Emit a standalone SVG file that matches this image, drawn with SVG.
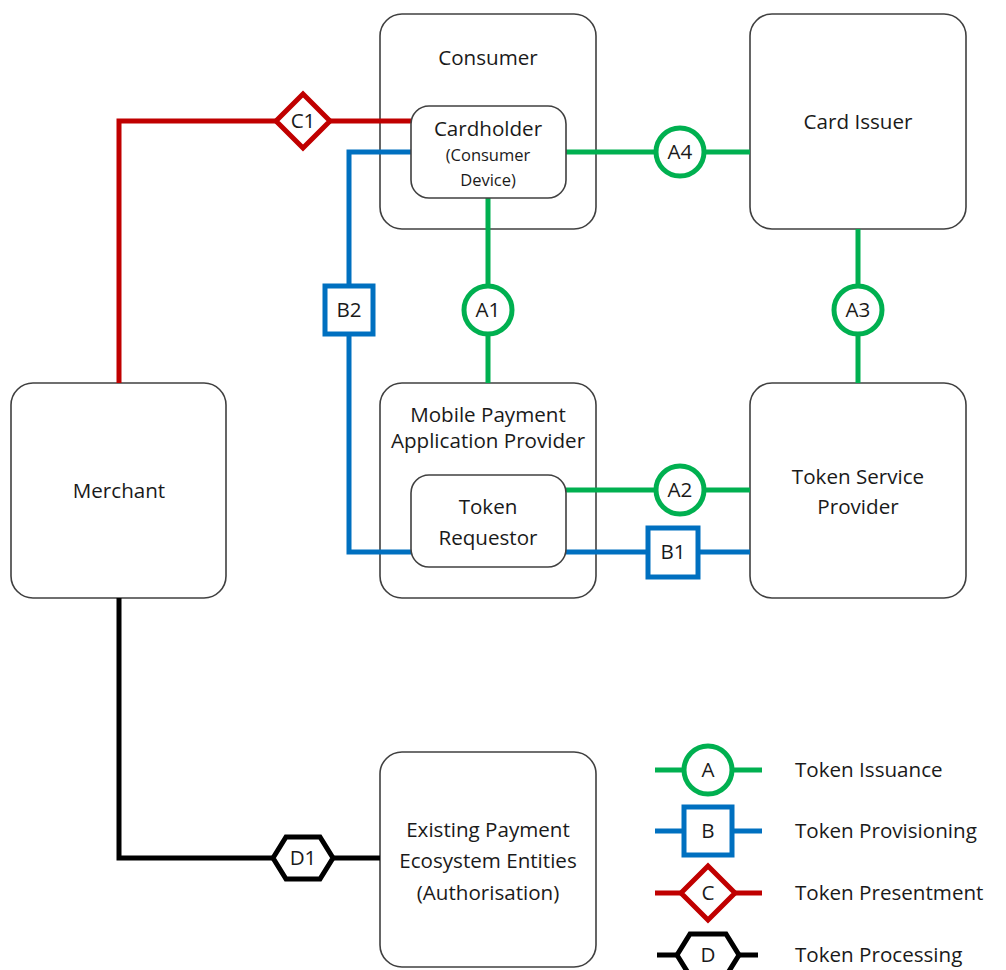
<svg xmlns="http://www.w3.org/2000/svg" width="1006" height="970" viewBox="0 0 1006 970">
<style>
.box{fill:#fff;stroke:#404040;stroke-width:1.6}
.t{font-family:"Open Sans","Noto Sans",sans-serif;font-size:20.6px;fill:#1a1a1a;text-anchor:middle}
.s{font-size:16.5px}
.lt{text-anchor:start}
.g{stroke:#00B050}
.b{stroke:#0070C0}
.r{stroke:#C00000}
.k{stroke:#000}
.ln{fill:none;stroke-width:5;stroke-linecap:butt;stroke-linejoin:miter}
.sym{fill:#fff;stroke-width:5}
</style>
<rect width="1006" height="970" fill="#fff"/>
<g id="merchant"><rect class="box" x="11" y="383" width="215" height="215" rx="22"/><text class="t" x="119" y="498">Merchant</text></g>
<g id="consumer"><rect class="box" x="380" y="14" width="216" height="215" rx="22"/><text class="t" x="488" y="65">Consumer</text></g>
<g id="card-issuer"><rect class="box" x="750" y="14" width="216" height="215" rx="22"/><text class="t" x="858" y="129">Card Issuer</text></g>
<g id="mpap"><rect class="box" x="380" y="383" width="216" height="215" rx="22"/><text class="t" x="488" y="422">Mobile Payment</text><text class="t" x="488" y="448">Application Provider</text></g>
<g id="tsp"><rect class="box" x="750" y="383" width="216" height="215" rx="22"/><text class="t" x="858" y="484">Token Service</text><text class="t" x="858" y="514">Provider</text></g>
<g id="existing"><rect class="box" x="380" y="752" width="216" height="215" rx="22"/><text class="t" x="488" y="837">Existing Payment</text><text class="t" x="488" y="868">Ecosystem Entities</text><text class="t" x="488" y="900">(Authorisation)</text></g>
<g id="connectors">
<path class="ln r" d="M119 383 V121 H411"/>
<path class="ln b" d="M411 152 H349 V552 H411"/>
<path class="ln g" d="M488 198 V383"/>
<path class="ln g" d="M566 152 H750"/>
<path class="ln g" d="M858 229 V383"/>
<path class="ln g" d="M566 490 H750"/>
<path class="ln b" d="M566 552 H750"/>
<path class="ln k" d="M119 598 V858 H380"/>
<path class="sym r" d="M303 94 L330 121 L303 148 L276 121 Z"/>
<rect class="sym b" x="325" y="286" width="48" height="48"/>
<circle class="sym g" cx="488" cy="310" r="24"/>
<circle class="sym g" cx="680" cy="152" r="24"/>
<circle class="sym g" cx="858" cy="310" r="24"/>
<circle class="sym g" cx="680" cy="490" r="24"/>
<rect class="sym b" x="648" y="528" width="50" height="49"/>
<path class="sym k" d="M273 858 L286 837 H320 L333 858 L320 879 H286 Z"/>
<text class="t" x="303" y="128">C1</text>
<text class="t" x="349" y="317">B2</text>
<text class="t" x="488" y="317">A1</text>
<text class="t" x="680" y="159">A4</text>
<text class="t" x="858" y="317">A3</text>
<text class="t" x="680" y="497">A2</text>
<text class="t" x="673" y="559">B1</text>
<text class="t" x="303" y="865">D1</text>
</g>
<g id="cardholder"><rect class="box" x="411" y="106" width="155" height="92" rx="18"/><text class="t" x="488" y="136">Cardholder</text><text class="t s" x="488" y="161">(Consumer</text><text class="t s" x="488" y="186">Device)</text></g>
<g id="token-requestor"><rect class="box" x="411" y="475" width="155" height="92" rx="18"/><text class="t" x="488" y="514">Token</text><text class="t" x="488" y="545">Requestor</text></g>
<g id="legend">
<path class="ln g" d="M655 770 H762"/><circle class="sym g" cx="708" cy="770" r="24"/><text class="t" x="708" y="777">A</text><text class="t lt" x="795" y="777">Token Issuance</text>
<path class="ln b" d="M655 831 H762"/><rect class="sym b" x="684" y="807" width="48" height="48"/><text class="t" x="708" y="838">B</text><text class="t lt" x="795" y="838">Token Provisioning</text>
<path class="ln r" d="M655 893 H762"/><path class="sym r" d="M708 866 L735 893 L708 920 L681 893 Z"/><text class="t" x="708" y="900">C</text><text class="t lt" x="795" y="900">Token Presentment</text>
<path class="ln k" d="M657 955 H758"/><path class="sym k" d="M677 955 L690 934 H726 L739 955 L726 976 H690 Z"/><text class="t" x="708" y="962">D</text><text class="t lt" x="795" y="962">Token Processing</text>
</g>
</svg>
